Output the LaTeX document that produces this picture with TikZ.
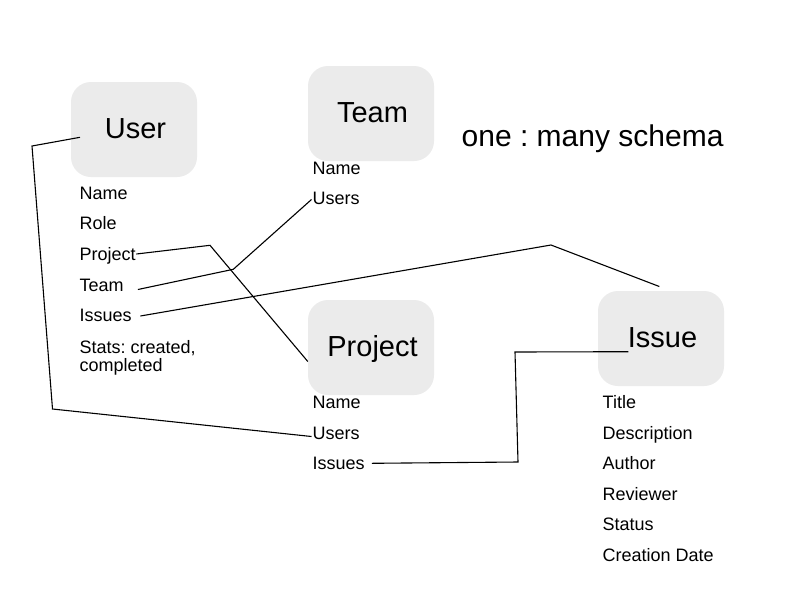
\documentclass[tikz,border=0pt]{standalone}
\usepackage{fontspec}
\setmainfont{Liberation Sans}
\definecolor{boxgray}{RGB}{235,235,235}
\begin{document}
\frenchspacing
\begin{tikzpicture}[x=1pt,y=-1pt,
  entity/.style={draw=none,fill=boxgray,rounded corners=20pt,minimum width=126pt,minimum height=95pt,
    inner sep=0pt,font=\fontsize{29}{29}\selectfont,text height=20pt,text depth=2pt},
  field/.style={anchor=base west,inner sep=0pt,font=\fontsize{18}{18}\selectfont},
  link/.style={draw=black,line width=1.1pt,line join=miter}]
\useasboundingbox (0,0) rectangle (800,600);
\fill[white] (0,0) rectangle (800,600);

% entity boxes
\node[entity] (user) at (134,129.5) {\hspace*{3pt}User};
\node[entity] (team) at (371,113.5) {\hspace*{3pt}Team};
\node[entity] (project) at (371,347.5) {\hspace*{3pt}Project};
\node[entity] (issue) at (661,338.5) {\hspace*{3pt}Issue};

% heading
\node[anchor=base west,inner sep=0pt,font=\fontsize{30}{30}\selectfont] (heading) at (461.5,146) {one : many schema};

% User fields
\node[field] (uName) at (79.5,199.5) {Name};
\node[field] (uRole) at (79.5,229.5) {Role};
\node[field] (uProject) at (79.5,260.5) {Project};
\node[field] (uTeam) at (79.5,291.5) {Team};
\node[field] (uIssues) at (79.5,321.5) {Issues};
\node[field] (uStats) at (79.5,353.5) {Stats: created,};
\node[field] (uStats2) at (79.5,371.5) {completed};

% Team fields
\node[field] (tName) at (312.5,174.5) {Name};
\node[field] (tUsers) at (312.5,204.5) {Users};

% Project fields
\node[field] (pName) at (312.5,408.5) {Name};
\node[field] (pUsers) at (312.5,439.5) {Users};
\node[field] (pIssues) at (312.5,469.5) {Issues};

% Issue fields
\node[field] (iTitle) at (602.5,408.5) {Title};
\node[field] (iDesc) at (602.5,439.5) {Description};
\node[field] (iAuthor) at (602.5,469.5) {Author};
\node[field] (iReviewer) at (602.5,500.5) {Reviewer};
\node[field] (iStatus) at (602.5,530.5) {Status};
\node[field] (iDate) at (602.5,561.5) {Creation Date};

% bend points
\coordinate (b1a) at (32,146);
\coordinate (b1b) at (52.5,409);
\coordinate (b2) at (210,245.3);
\coordinate (b3) at (233.3,269.3);
\coordinate (b4) at (551,245);
\coordinate (b5a) at (518,462);
\coordinate (b5b) at (515,352);

% connectors
\draw[link] ([xshift=-54pt,yshift=-7.8pt]user.center) -- (b1a) -- (b1b) -- ([xshift=-1pt,yshift=3pt]pUsers.base west);
\draw[link] ([xshift=0.5pt,yshift=6.5pt]uProject.base east) -- (b2) -- ([yshift=-14pt]project.west);
\draw[link] ([xshift=14pt,yshift=2pt]uTeam.base east) -- (b3) -- ([xshift=-1pt,yshift=5pt]tUsers.base west);
\draw[link] ([xshift=8.5pt,yshift=5.5pt]uIssues.base east) -- (b4) -- ([xshift=-1.7pt,yshift=4.3pt]issue.north);
\draw[link] ([xshift=7pt,yshift=6.2pt]pIssues.base east) -- (b5a) -- (b5b) -- ([xshift=-32.7pt,yshift=-13.2pt]issue.center);
\end{tikzpicture}
\end{document}
